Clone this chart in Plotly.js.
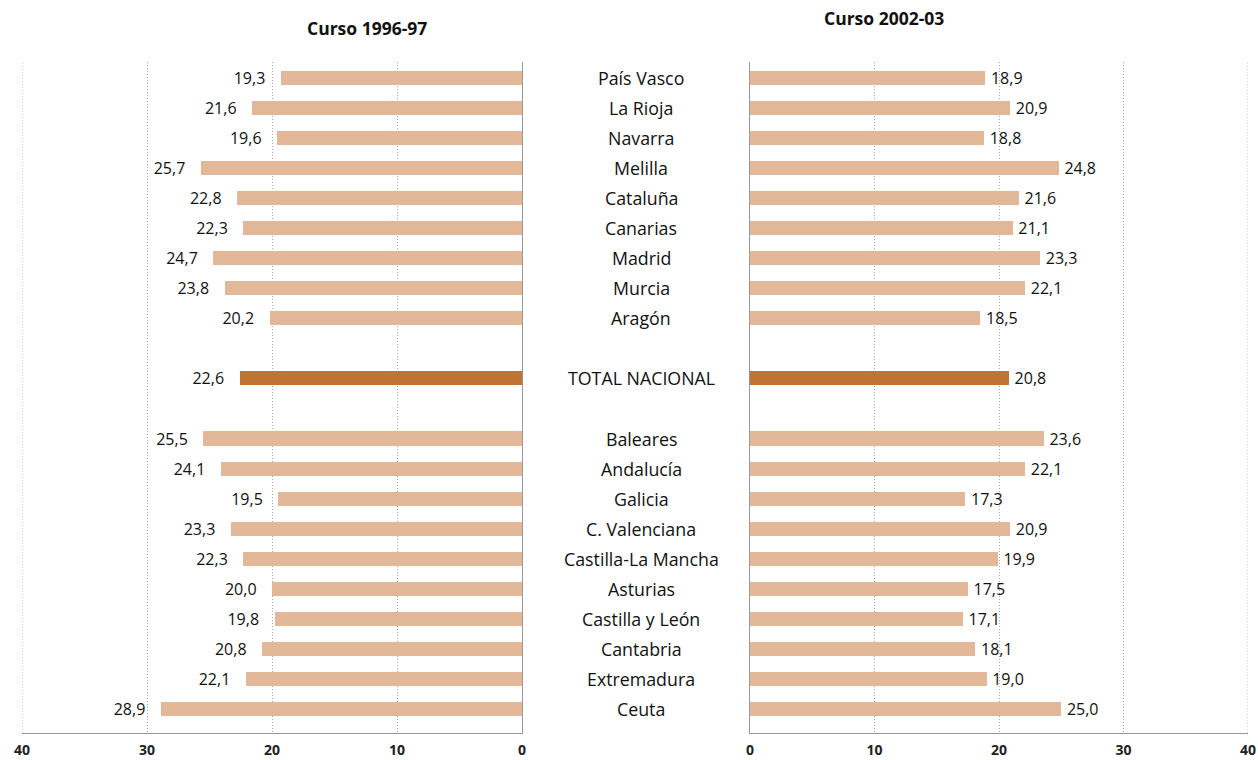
<!DOCTYPE html>
<html>
<head>
<meta charset="utf-8">
<script src="https://cdn.plot.ly/plotly-3.0.1.min.js"></script>
<style>html,body{margin:0;padding:0;background:#fff;}#chart{width:1258px;height:760px;}</style>
</head>
<body>
<div id="chart"></div>
<script>
// Data
var regionsTop = ["País Vasco","La Rioja","Navarra","Melilla","Cataluña","Canarias","Madrid","Murcia","Aragón"];
var regionsBottom = ["Baleares","Andalucía","Galicia","C. Valenciana","Castilla-La Mancha","Asturias","Castilla y León","Cantabria","Extremadura","Ceuta"];
var totalLabel = "TOTAL NACIONAL";
var curso9697Top = [19.3,21.6,19.6,25.7,22.8,22.3,24.7,23.8,20.2];
var curso9697Total = 22.6;
var curso9697Bottom = [25.5,24.1,19.5,23.3,22.3,20.0,19.8,20.8,22.1,28.9];
var curso0203Top = [18.9,20.9,18.8,24.8,21.6,21.1,23.3,22.1,18.5];
var curso0203Total = 20.8;
var curso0203Bottom = [23.6,22.1,17.3,20.9,19.9,17.5,17.1,18.1,19.0,25.0];
var titleLeft = "Curso 1996-97";
var titleRight = "Curso 2002-03";
var tickVals = [0,10,20,30,40];

// row positions: top group, gap, total, gap, bottom group
var posTop = regionsTop.map(function(_, i){ return i; });
var posTotal = regionsTop.length + 1;
var posBottom = regionsBottom.map(function(_, i){ return posTotal + 2 + i; });

function fmt(v){ return v.toFixed(1).replace('.', ','); }

var regColor = '#E2B898';
var totColor = '#C07333';
var txtFont = {family: 'Open Sans, sans-serif', size: 16, color: '#111'};

function barTrace(vals, pos, color, xa, ya, left){
  return {
    type: 'bar', orientation: 'h',
    x: vals, y: pos,
    xaxis: xa, yaxis: ya,
    width: 0.47,
    marker: {color: color},
    text: vals.map(function(v){ return left ? fmt(v) + '\u00a0\u00a0\u00a0' : '\u2009' + fmt(v); }),
    textposition: 'outside',
    constraintext: 'none',
    cliponaxis: false,
    textfont: txtFont,
    hoverinfo: 'skip',
    showlegend: false
  };
}

var data = [
  barTrace(curso9697Top.concat(curso9697Bottom), posTop.concat(posBottom), regColor, 'x', 'y', true),
  barTrace([curso9697Total], [posTotal], totColor, 'x', 'y', true),
  barTrace(curso0203Top.concat(curso0203Bottom), posTop.concat(posBottom), regColor, 'x2', 'y2', false),
  barTrace([curso0203Total], [posTotal], totColor, 'x2', 'y2', false)
];

var yRange = [21.8, -0.53];
var W = 1258;

var annotations = [];
var allLabels = regionsTop.concat([totalLabel]).concat(regionsBottom);
var allPos = posTop.concat([posTotal]).concat(posBottom);
allLabels.forEach(function(l, i){
  annotations.push({
    text: l, xref: 'paper', yref: 'y', x: 641/W, y: allPos[i],
    xanchor: 'center', yanchor: 'middle', showarrow: false,
    font: {family: 'Open Sans, sans-serif', size: 17.8, color: '#111'}
  });
});
annotations.push({text: '<b>' + titleLeft + '</b>', xref: 'paper', yref: 'paper', x: 367/W, y: 1 + (62-28)/671,
  xanchor: 'center', yanchor: 'middle', showarrow: false, font: {family: 'Open Sans, sans-serif', size: 17.5, color: '#111'}});
annotations.push({text: '<b>' + titleRight + '</b>', xref: 'paper', yref: 'paper', x: 884/W, y: 1 + (62-18)/671,
  xanchor: 'center', yanchor: 'middle', showarrow: false, font: {family: 'Open Sans, sans-serif', size: 17.5, color: '#111'}});

var gridStyle = {color: '#aaaaaa', width: 1, dash: '1px,2px'};
var axCommon = {
  tickvals: tickVals,
  ticktext: tickVals.map(String),
  showgrid: true, gridcolor: '#aaaaaa', griddash: '1px,2px', gridwidth: 1,
  zeroline: false,
  showline: true, linecolor: '#999999', linewidth: 1,
  ticks: '', ticklen: 0,
  ticklabelstandoff: 4,
  tickfont: {family: 'Open Sans, sans-serif', size: 14, color: '#222', weight: 'bold'},
  fixedrange: true
};

var layout = {
  width: 1258, height: 760,
  margin: {l: 0, r: 0, t: 62, b: 27},
  paper_bgcolor: '#fff', plot_bgcolor: 'rgba(0,0,0,0)',
  bargap: 0,
  xaxis: Object.assign({}, axCommon, {domain: [22/W, 522/W], range: [40, 0], anchor: 'y'}),
  xaxis2: Object.assign({}, axCommon, {domain: [750/W, 1248/W], range: [0, 40], anchor: 'y2'}),
  yaxis: {domain: [0, 1], range: yRange, anchor: 'x', side: 'right', showline: true, linecolor: '#999999', linewidth: 1,
          showticklabels: false, showgrid: false, zeroline: false, ticks: '', fixedrange: true},
  yaxis2: {domain: [0, 1], range: yRange, anchor: 'x2', side: 'left', showline: true, linecolor: '#999999', linewidth: 1,
          showticklabels: false, showgrid: false, zeroline: false, ticks: '', fixedrange: true},
  shapes: [
    {type: 'line', xref: 'x', yref: 'y domain', x0: 40, x1: 40, y0: 0, y1: 1, line: gridStyle, layer: 'below'},
    {type: 'line', xref: 'x2', yref: 'y2 domain', x0: 40, x1: 40, y0: 0, y1: 1, line: gridStyle, layer: 'below'}
  ],
  annotations: annotations
};

Plotly.newPlot('chart', data, layout, {displayModeBar: false, staticPlot: true});
</script>
</body>
</html>
